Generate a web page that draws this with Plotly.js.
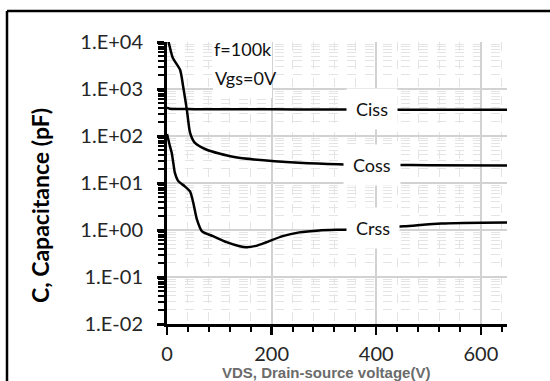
<!DOCTYPE html>
<html>
<head>
<meta charset="utf-8">
<script src="https://cdn.plot.ly/plotly-3.0.1.min.js"></script>
<style>
  html, body { margin: 0; padding: 0; background: #fff; }
  #chart { width: 550px; height: 381px; }
</style>
</head>
<body>
<div id="chart"></div>
<script>
// Drain-source voltage (V) and capacitance (pF)
const cissV = [0, 5, 20, 50, 100, 200, 300, 400, 500, 650];
const cissC = [400, 380, 375, 373, 371, 369, 367, 365, 362, 360];

const cossV = [0, 4, 11, 25, 31, 38, 44, 53, 76, 126, 206, 349, 500, 650];
const cossC = [14000, 9000, 4600, 2560, 1110, 360, 118, 72, 51, 36, 29, 24.6, 24, 23.5];

const crssV = [0, 3, 5.7, 9, 12, 15, 21.5, 34, 44, 50, 57, 67, 88, 114, 139, 152, 170, 190, 221, 253, 291, 349, 453, 524, 650];
const crssC = [110, 80, 60, 44, 27, 16.6, 11, 8.5, 6.6, 3.9, 1.7, 0.93, 0.74, 0.55, 0.45, 0.43, 0.46, 0.55, 0.74, 0.89, 0.98, 1.03, 1.2, 1.38, 1.45];

const yTickVals = [0.01, 0.1, 1, 10, 100, 1000, 10000];
const yTickText = ['1.E-02', '1.E-01', '1.E+00', '1.E+01', '1.E+02', '1.E+03', '1.E+04'];
const xTickVals = [0, 200, 400, 600];

const seriesNames = ['Ciss', 'Coss', 'Crss'];
const labelX = [392, 392, 394];
const labelC = [375, 24, 1.08];

const lineStyle = {color: '#000', width: 2.5, shape: 'spline', smoothing: 0.6};
const traces = [
  {x: cissV, y: cissC, name: seriesNames[0], mode: 'lines', line: lineStyle},
  {x: cossV, y: cossC, name: seriesNames[1], mode: 'lines', line: lineStyle},
  {x: crssV, y: crssC, name: seriesNames[2], mode: 'lines', line: lineStyle}
];

const tickFont = {family: 'Lato, "Open Sans", sans-serif', size: 20, color: '#262626'};
const px = (p) => (p - 167) / 340;
const py = (p) => (324 - p) / 282;

const annotations = seriesNames.map((n, i) => ({
  x: labelX[i], y: Math.log10(labelC[i]), xref: 'x', yref: 'y', xanchor: 'center', yanchor: 'middle',
  text: n, showarrow: false, bgcolor: '#fff', borderpad: 9,
  font: {family: 'Lato, sans-serif', size: 18, color: '#111'}
}));
annotations.push(
  {x: px(243), y: py(49), xref: 'paper', yref: 'paper', xanchor: 'center', yanchor: 'middle',
   text: 'f=100k', showarrow: false,
   font: {family: 'Lato, sans-serif', size: 18, color: '#111'}},
  {x: px(246), y: py(78), xref: 'paper', yref: 'paper', xanchor: 'center', yanchor: 'middle',
   text: 'Vgs=0V', showarrow: false,
   font: {family: 'Lato, sans-serif', size: 18, color: '#111'}},
  {x: px(40), y: py(206), xref: 'paper', yref: 'paper', xanchor: 'center', yanchor: 'middle',
   text: 'C, Capacitance (pF)', textangle: -90, showarrow: false,
   font: {family: 'Lato, sans-serif', size: 23, color: '#000', weight: 'bold'}},
  {x: px(326), y: py(372), xref: 'paper', yref: 'paper', xanchor: 'center', yanchor: 'middle',
   text: 'VDS, Drain-source voltage(V)', showarrow: false,
   font: {family: '"Liberation Sans", Arial, sans-serif', size: 15, color: '#6b6b6b', weight: 'bold'}}
);

const layout = {
  width: 550, height: 381,
  margin: {l: 167, r: 43, t: 42, b: 57},
  paper_bgcolor: '#fff', plot_bgcolor: '#fff',
  showlegend: false,
  xaxis: {
    range: [0, 650], tickvals: xTickVals, ticks: 'outside', ticklen: 8, tickwidth: 2.5, tickcolor: '#000',
    showline: true, linecolor: '#000', linewidth: 2.5, zeroline: false,
    showgrid: true, gridcolor: '#d2d2d2', gridwidth: 2,
    minor: {dtick: 40, ticks: 'outside', ticklen: 5, tickwidth: 2, tickcolor: '#000', showgrid: true, gridcolor: '#e4e4e4', griddash: 'dash', gridwidth: 1},
    tickfont: tickFont, ticklabelstandoff: 2
  },
  yaxis: {
    type: 'log', range: [-2, 4], tickvals: yTickVals, ticktext: yTickText,
    ticks: 'outside', ticklen: 7, tickwidth: 3, tickcolor: '#000',
    showline: true, linecolor: '#000', linewidth: 3, zeroline: false,
    showgrid: true, gridcolor: '#d2d2d2', gridwidth: 2,
    minor: {dtick: 'D1', ticks: 'outside', ticklen: 6, tickwidth: 2, tickcolor: '#000', showgrid: true, gridcolor: '#e4e4e4', griddash: 'dash', gridwidth: 1},
    tickfont: tickFont, ticklabelstandoff: 10
  },
  shapes: [
    {type: 'rect', xref: 'paper', yref: 'paper', x0: px(213), x1: px(272),
     y0: py(98), y1: py(33), fillcolor: '#fff', line: {width: 0}, layer: 'above'},
    {type: 'line', xref: 'paper', yref: 'paper', x0: px(7), x1: px(560),
     y0: py(11), y1: py(11), line: {color: '#000', width: 2.5}},
    {type: 'line', xref: 'paper', yref: 'paper', x0: px(7), x1: px(7),
     y0: py(11), y1: py(395), line: {color: '#000', width: 2.5}}
  ],
  annotations: annotations
};

Plotly.newPlot('chart', traces, layout, {displayModeBar: false, staticPlot: true});
</script>
</body>
</html>
